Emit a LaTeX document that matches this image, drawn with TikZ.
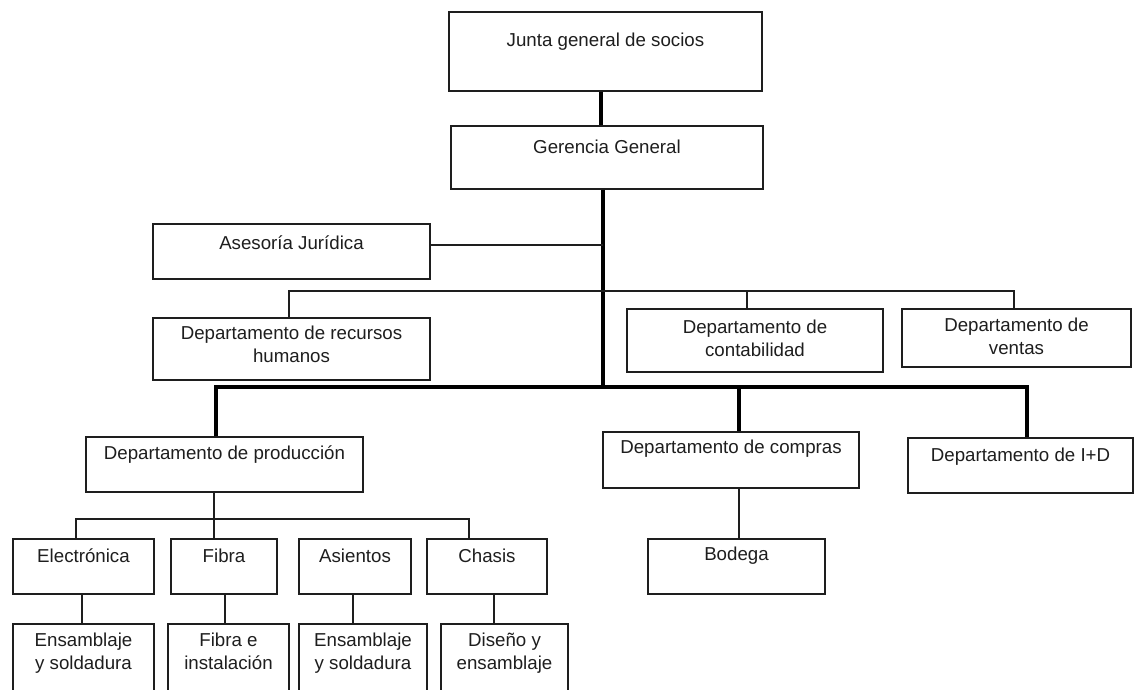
\documentclass[tikz,border=0pt]{standalone}
\usepackage{fontspec}
\setmainfont{Liberation Sans}
\definecolor{ink}{HTML}{1E1E1E}
\newcommand{\orgbox}[5]{\node[box, minimum width={(#4)-(#2)}, minimum height={(#5)-(#3)}] (#1) at ({((#2)+(#4))/2},{((#3)+(#5))/2}) {};}
\begin{document}
\begin{tikzpicture}[x=1pt,y=-1pt,
  box/.style={draw=ink, line width=1.2pt, inner sep=0pt, rectangle, fill=white},
  txt/.style={font=\fontsize{18.7}{23}\selectfont, text=ink, align=center, inner sep=0pt},
  heavy/.style={line width=4.6pt, draw=black},
  lite/.style={line width=1.3pt, draw=ink}]
\useasboundingbox (0,0) rectangle (1134,690);

% boxes
\orgbox{junta}{449}{12}{762}{91}
\orgbox{ger}{451}{126}{763}{189}
\orgbox{ases}{153}{224}{430}{279}
\orgbox{rrhh}{153}{318}{430}{380}
\orgbox{contab}{627}{309}{883}{372}
\orgbox{ventas}{902}{309}{1131}{367}
\orgbox{prod}{86}{437}{363}{492}
\orgbox{compras}{603}{432}{859}{488}
\orgbox{idd}{908}{438}{1133}{493}
\orgbox{bodega}{648}{539}{825}{594}
\orgbox{elec}{13}{539}{154}{594}
\orgbox{fibra}{171}{539}{277}{594}
\orgbox{asien}{299}{539}{411}{594}
\orgbox{chasis}{427}{539}{547}{594}
\orgbox{ensA}{13}{624}{154}{705}
\orgbox{fibraE}{168}{624}{289}{705}
\orgbox{ensB}{299}{624}{427}{705}
\orgbox{dis}{441}{624}{568}{705}

% texts
\node[txt] (juntaT) at (junta.center |- 0,42) {Junta general de socios};
\node[txt] (gerT) at (ger.center |- 0,147) {Gerencia General};
\node[txt] (asesT) at (ases.center |- 0,243) {Asesoría Jurídica};
\node[txt] (rrhhT) at (rrhh.center |- 0,344) {Departamento de recursos\\humanos};
\node[txt] (contabT) at (contab.center |- 0,338.5) {Departamento de\\contabilidad};
\node[txt] (ventasT) at (ventas.center |- 0,336.5) {Departamento de\\ventas};
\node[txt] (prodT) at (prod.center |- 0,455) {Departamento de producción};
\node[txt] (comprasT) at (compras.center |- 0,449) {Departamento de compras};
\node[txt] (iddT) at (idd.center |- 0,457) {Departamento de I+D};
\node[txt] (bodegaT) at (bodega.center |- 0,556) {Bodega};
\node[txt] (elecT) at (elec.center |- 0,556) {Electrónica};
\node[txt] (fibraT) at (fibra.center |- 0,556) {Fibra};
\node[txt] (asienT) at (asien.center |- 0,556) {Asientos};
\node[txt] (chasisT) at (chasis.center |- 0,556) {Chasis};
\node[txt] (ensAT) at (ensA.center |- 0,653.5) {Ensamblaje\\y soldadura};
\node[txt] (fibraET) at (fibraE.center |- 0,651.5) {Fibra e\\instalación};
\node[txt] (ensBT) at (ensB.center |- 0,653.5) {Ensamblaje\\y soldadura};
\node[txt] (disT) at (dis.center |- 0,653.5) {Diseño y\\ensamblaje};

% junction coordinates
\coordinate (busC) at (603,387);
\coordinate (busL) at (216,387);
\coordinate (busR) at (1027,387);
\coordinate (busM) at (739,387);
\coordinate (asesJ) at (603,245);
\coordinate (tbL) at (289,291);
\coordinate (tbM) at (747,291);
\coordinate (tbR) at (1014,291);
\coordinate (pbS) at (214,519);
\coordinate (pbL) at (76,519);
\coordinate (pbR) at (469,519);

% thick connectors
\draw[heavy] (junta.south -| 601,0) -- (ger.north -| 601,0);
\draw[heavy] (ger.south -| busC) -- (busC);
\draw[heavy, line join=miter] (prod.north -| busL) -- (busL) -- (busR) -- (idd.north -| busR);
\draw[heavy] (busM) -- (compras.north -| busM);

% thin connectors
\draw[lite] (ases.east |- asesJ) -- (asesJ);
\draw[lite] (rrhh.north -| tbL) -- (tbL) -- (tbR) -- (ventas.north -| tbR);
\draw[lite] (tbM) -- (contab.north -| tbM);
\draw[lite] (compras.south -| 739,0) -- (bodega.north -| 739,0);
\draw[lite] (prod.south -| pbS) -- (fibra.north -| pbS);
\draw[lite] (elec.north -| pbL) -- (pbL) -- (pbR) -- (chasis.north -| pbR);
\draw[lite] (elec.south -| 82,0) -- (ensA.north -| 82,0);
\draw[lite] (fibra.south -| 225,0) -- (fibraE.north -| 225,0);
\draw[lite] (asien.south -| 353,0) -- (ensB.north -| 353,0);
\draw[lite] (chasis.south -| 494,0) -- (dis.north -| 494,0);
\end{tikzpicture}
\end{document}
